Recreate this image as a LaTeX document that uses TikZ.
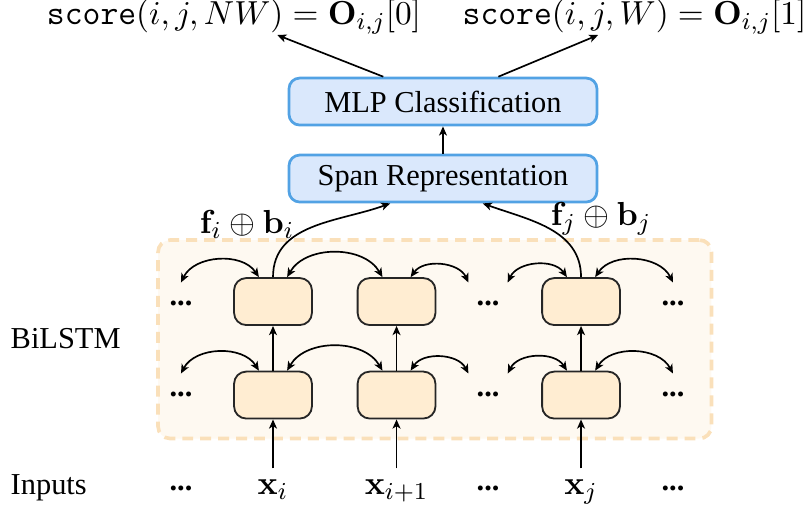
\documentclass[tikz,border=0pt]{standalone}
\usepackage{amsmath,amssymb}
\usepackage[no-math]{fontspec}
\setmainfont{Liberation Serif}
\usepackage{tikz}
\usetikzlibrary{arrows.meta}

\definecolor{blockfill}{RGB}{218,232,252}
\definecolor{blockline}{RGB}{82,162,228}
\definecolor{cellfill}{RGB}{255,237,210}
\definecolor{bgfill}{RGB}{254,249,241}
\definecolor{bgline}{RGB}{250,224,186}

\begin{document}
\begin{tikzpicture}[
        % STYLES
        block/.style={rectangle, rounded corners=3.5pt, draw=blockline, fill=blockfill, line width=0.9pt, minimum width=3.56cm, minimum height=0.543cm, font=\fontsize{10}{12}\selectfont},
        cell/.style={rectangle, rounded corners=4pt, draw=black!85, fill=cellfill, line width=0.6pt, minimum width=0.9cm, minimum height=0.543cm},
        lstmbg/.style={rectangle, rounded corners=4pt, draw=bgline, fill=bgfill, line width=1.2pt, dash pattern=on 3.6pt off 2.3pt},
        dots/.style={minimum width=0.44cm, minimum height=0.46cm, inner sep=0pt, font=\bfseries},
        mathlabel/.style={inner sep=0pt, font=\fontsize{11.4}{13}\selectfont},
        % ARROWS
        flow/.style={-{Stealth[length=3pt, width=2.6pt, inset=0.8pt]}, line width=0.55pt},
        % double arrows between neighbouring cells
        recur/.style={{Stealth[length=3pt, width=2.6pt, inset=0.8pt]}-{Stealth[length=3pt, width=2.6pt, inset=0.8pt]}, line width=0.55pt, bend left=60}
    ]
    \useasboundingbox (0,0) rectangle (9.283,5.85);

    % ===================================
    % 1. Output scores and classifier
    % ===================================
    \node[mathlabel] (snw) at (2.705, 5.653) {$\texttt{score}(i, j, NW) = \mathbf{O}_{i,j}[0]$};
    \node[mathlabel] (sw) at (7.335, 5.653) {$\texttt{score}(i, j, W) = \mathbf{O}_{i,j}[1]$};

    \node[block] (mlp) at (5.121, 4.676) {MLP Classification};
    \node[block] (span) at (5.121, 3.786) {Span Representation};

    \draw[flow] ([xshift=-0.69cm]mlp.north) -- ([xshift=0.5cm]snw.south);
    \draw[flow] ([xshift=0.64cm]mlp.north) -- ([xshift=-0.42cm]sw.south);
    \draw[flow] (span) -- (mlp);

    % ===================================
    % 2. BiLSTM layers
    % ===================================
    \node[lstmbg, minimum width=6.398cm, minimum height=2.295cm] (bg) at (5.026, 1.928) {};
    \node[anchor=base west, font=\fontsize{10}{12}\selectfont] (bilstm) at (0, 1.827) {BiLSTM};

    % --- upper row ---
    \node[dots] (dhl) at (2.092, 2.347) {...};
    \node[cell] (hi) at (3.156, 2.364) {};
    \node[cell] (hip) at (4.584, 2.364) {};
    \node[dots] (dhm) at (5.642, 2.347) {...};
    \node[cell] (hj) at (6.717, 2.364) {};
    \node[dots] (dhr) at (7.780, 2.347) {...};

    % --- lower row ---
    \node[dots] (dll) at (2.092, 1.295) {...};
    \node[cell] (li) at (3.156, 1.283) {};
    \node[cell] (lip) at (4.584, 1.283) {};
    \node[dots] (dlm) at (5.642, 1.295) {...};
    \node[cell] (lj) at (6.717, 1.283) {};
    \node[dots] (dlr) at (7.780, 1.295) {...};

    % recurrent links
    \draw[recur] (dhl.north) to (hi.120);
    \draw[recur] (hi.60) to (hip.120);
    \draw[recur] (hip.60) to (dhm.north west);
    \draw[recur] (dhm.north east) to (hj.120);
    \draw[recur] (hj.60) to (dhr.north);

    \draw[recur] (dll.north) to (li.120);
    \draw[recur] (li.60) to (lip.120);
    \draw[recur] (lip.60) to (dlm.north west);
    \draw[recur] (dlm.north east) to (lj.120);
    \draw[recur] (lj.60) to (dlr.north);

    % lower -> upper
    \draw[flow] (li) -- (hi);
    \draw[flow] (lip) -- (hip);
    \draw[flow] (lj) -- (hj);

    % span end points
    \draw[flow] (hi.north) to[out=90, in=200] ([xshift=-0.61cm]span.south);
    \draw[flow] (hj.north) to[out=90, in=-20] ([xshift=0.46cm]span.south);
    \node[mathlabel] (fbi) at (2.855, 3.26) {$\mathbf{f}_i \oplus \mathbf{b}_i$};
    \node[mathlabel] (fbj) at (6.948, 3.318) {$\mathbf{f}_j \oplus \mathbf{b}_j$};

    % ===================================
    % 3. Inputs
    % ===================================
    \node[anchor=base west, font=\fontsize{10}{12}\selectfont] (inputs) at (0, 0.139) {Inputs};
    \node[dots] (dxl) at (2.092, 0.208) {...};
    \node[anchor=base, font=\fontsize{11.4}{13}\selectfont] (xi) at (3.156, 0.139) {$\mathbf{x}_i$};
    \node[anchor=base, font=\fontsize{11.4}{13}\selectfont] (xip) at (4.584, 0.139) {$\mathbf{x}_{i+1}$};
    \node[dots] (dxm) at (5.642, 0.208) {...};
    \node[anchor=base, font=\fontsize{11.4}{13}\selectfont] (xj) at (6.717, 0.139) {$\mathbf{x}_j$};
    \node[dots] (dxr) at (7.780, 0.208) {...};

    \draw[flow] (xi) -- (li);
    \draw[flow] (xip) -- (lip);
    \draw[flow] (xj) -- (lj);

\end{tikzpicture}
\end{document}
